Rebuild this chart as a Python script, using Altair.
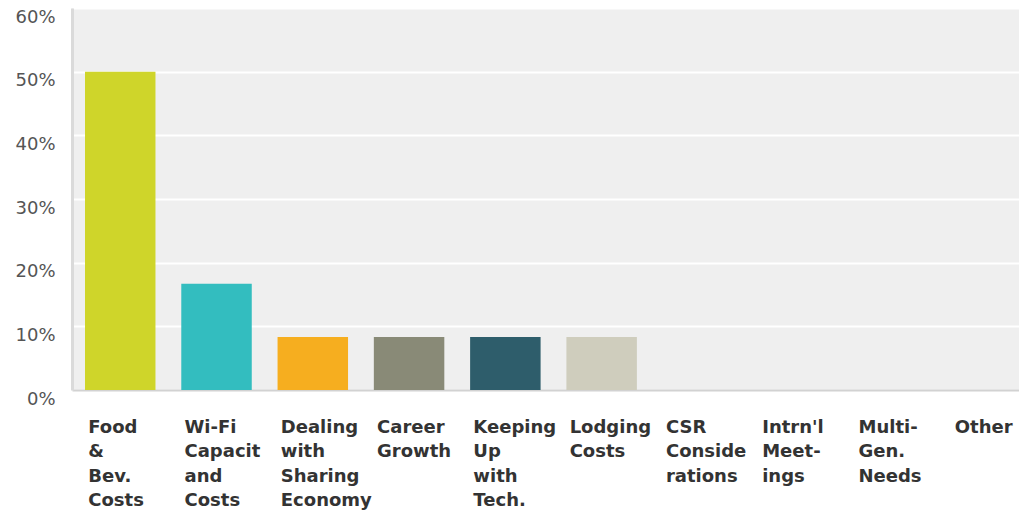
import altair as alt
import pandas as pd

categories = [
    "Food\n&\nBev.\nCosts",
    "Wi-Fi\nCapacit\nand\nCosts",
    "Dealing\nwith\nSharing\nEconomy",
    "Career\nGrowth",
    "Keeping\nUp\nwith\nTech.",
    "Lodging\nCosts",
    "CSR\nConside\nrations",
    "Intrn'l\nMeet-\nings",
    "Multi-\nGen.\nNeeds",
    "Other",
]
values = [0.50, 0.1667, 0.0833, 0.0833, 0.0833, 0.0833, 0.0, 0.0, 0.0, 0.0]
colors = ["#cfd52a", "#33bdbf", "#f6ae1f", "#898a77", "#2e5d6b", "#cfcdbd",
          "#9e9e9e", "#9e9e9e", "#9e9e9e", "#9e9e9e"]
y_ticks = [0, 0.1, 0.2, 0.3, 0.4, 0.5, 0.6]

df = pd.DataFrame({"cat": categories, "val": values})

chart = alt.Chart(df).mark_bar().encode(
    x=alt.X(
        "cat:N",
        sort=categories,
        scale=alt.Scale(range=[0, 963], paddingInner=0.268, paddingOuter=0.135),
        axis=alt.Axis(
            title=None,
            labelAngle=0,
            labelAlign="left",
            labelBaseline="top",
            labelOffset=-32,
            labelPadding=28,
            labelFont="DejaVu Sans",
            labelFontWeight="bold",
            labelFontSize=18,
            labelLineHeight=24.5,
            labelColor="#333333",
            labelExpr="split(datum.label, '\\n')",
            ticks=False,
            domainColor="#d2d2d2",
            domainWidth=2,
            grid=False,
            labelOverlap=False,
            labelLimit=0,
        ),
    ),
    y=alt.Y(
        "val:Q",
        scale=alt.Scale(domain=[0, 0.6], nice=False),
        axis=alt.Axis(
            title=None,
            values=y_ticks,
            format=".0%",
            labelFont="DejaVu Sans",
            labelFontSize=18,
            labelColor="#555555",
            labelPadding=17,
            labelOffset=9,
            ticks=False,
            domainColor="#dadada",
            domainWidth=3,
            gridColor="#ffffff",
            gridWidth=2,
        ),
    ),
    color=alt.Color("cat:N", sort=categories,
                    scale=alt.Scale(domain=categories, range=colors), legend=None),
).properties(
    width=947,
    height=382,
    autosize=alt.AutoSizeParams(type="none"),
    padding={"left": 72, "top": 8, "right": 0, "bottom": 124},
    background="#ffffff",
).configure_view(
    fill="#efefef",
    stroke=None,
)

chart.save("out.html", embed_options={"renderer": "svg", "actions": False})
